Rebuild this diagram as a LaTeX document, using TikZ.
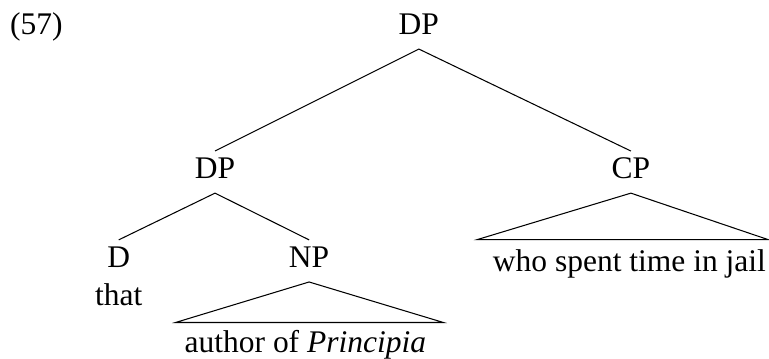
\documentclass[tikz,border=0pt,12pt]{standalone}
\usepackage{fontspec}
\setmainfont{Liberation Serif}

\begin{document}
\begin{tikzpicture}
    \tikzstyle{cat}=[inner xsep=0pt,inner ysep=0.05cm,text height=0.31cm,text depth=0.14cm,anchor=base]
    \tikzstyle{words}=[inner sep=0pt,anchor=base]
    \useasboundingbox (0,0) rectangle (10.30,4.80);
    \node[words,anchor=base west] (ex) at (0.13,4.34) {(57)};
    \node[cat] (dp) at (5.61,4.34) {DP};
    \node[cat] (dpl) at (2.88,2.41) {DP};
    \node[cat] (cp) at (8.45,2.41) {CP};
    \node[cat] (d) at (1.59,1.22) {D};
    \node[cat] (np) at (4.14,1.22) {NP};
    \node[words] (that) at (1.59,0.71) {that};
    \node[words] (author) at (4.09,0.08) {author of \textit{Principia}};
    \node[words] (who) at (8.43,1.17) {who spent time in jail};
    \coordinate (npl) at (2.35,0.48);
    \coordinate (npr) at (5.94,0.48);
    \coordinate (cpl) at (6.39,1.59);
    \coordinate (cpr) at (10.29,1.59);
    \draw (dpl.north) -- (dp.south) -- (cp.north);
    \draw (d.north) -- (dpl.south) -- (np.north);
    \draw (np.south) -- (npl) -- (npr) -- cycle;
    \draw (cp.south) -- (cpl) -- (cpr) -- cycle;
\end{tikzpicture}
\end{document}
